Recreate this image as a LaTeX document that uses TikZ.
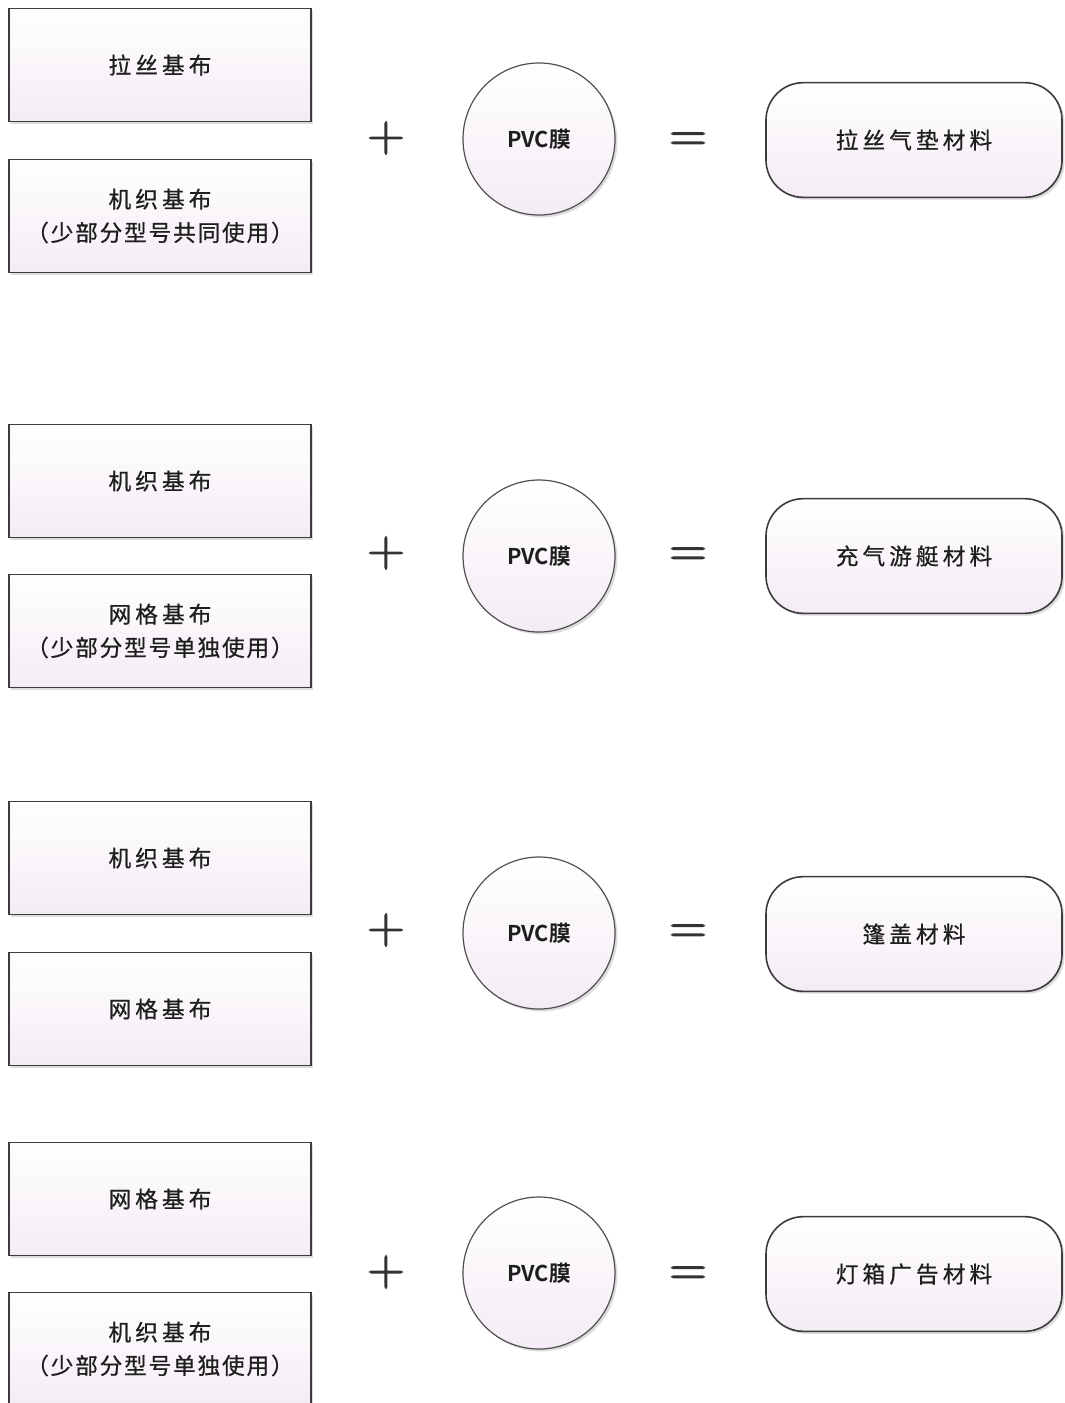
\documentclass[tikz,border=0pt]{standalone}
\usepackage{fontspec}
\usetikzlibrary{shadows}
\newfontfamily\cjkA[LetterSpace=18, FakeBold=0.7]{Noto Sans CJK SC}
\newfontfamily\cjkB[LetterSpace=8, FakeBold=0.7]{Noto Sans CJK SC}
\newfontfamily\cjkbold[BoldFont={Noto Sans CJK SC Bold}]{Noto Sans CJK SC}
\newfontfamily\opfont[FakeBold=2.2]{Latin Modern Roman}
\definecolor{edge}{HTML}{3C3C3C}
\definecolor{pinkish}{HTML}{F4ECF5}
\definecolor{ink}{HTML}{1E1E1E}
\tikzset{
  shade/.style={drop shadow={shadow xshift=1.8pt, shadow yshift=-1.8pt, fill=black!30, opacity=0.45}},
  basebox/.style={shade, draw=edge, line width=1.3pt, top color=white, bottom color=pinkish,
    minimum width=226.5pt, minimum height=84.75pt, align=center, inner sep=0pt, text=ink,
    font=\cjkA\fontsize{17}{25}\selectfont},
  film/.style={circle, shade, draw=edge!90, line width=0.9pt, top color=white, bottom color=pinkish,
    minimum size=114pt, inner sep=0pt, text=ink, font=\cjkbold\bfseries\fontsize{16.3}{18}\selectfont},
  result/.style={shade, draw=edge, line width=1.2pt, rounded corners=28pt, top color=white, bottom color=pinkish,
    minimum width=222pt, minimum height=86pt, inner sep=0pt, text=ink,
    font=\cjkA\fontsize{17}{25}\selectfont},
  op/.style={inner sep=0pt, text=black!80, font=\opfont\fontsize{39}{39}\selectfont},
}
\newcommand{\La}[1]{{\cjkA #1}}
\newcommand{\Lb}[1]{{\cjkB #1}}
\begin{document}
\begin{tikzpicture}[x=0.75pt, y=-0.75pt]
\useasboundingbox (0,0) rectangle (1064,1403);
\fill[white] (0,0) rectangle (1064,1403);
% Row 1
\node[basebox] (r1a) at (160,65) {\La{拉丝基布}};
\node[basebox] (r1b) at (160,216) {\La{机织基布}\\\Lb{（少部分型号共同使用）}};
\node[op] (p1) at (386,138) {+};
\node[film] (c1) at (539,139) {PVC膜};
\node[op] (e1) at (688,142) {=};
\node[result] (m1) at (914,140) {\La{拉丝气垫材料}};
% Row 2
\node[basebox] (r2a) at (160,481) {\La{机织基布}};
\node[basebox] (r2b) at (160,631) {\La{网格基布}\\\Lb{（少部分型号单独使用）}};
\node[op] (p2) at (386,553) {+};
\node[film] (c2) at (539,556) {PVC膜};
\node[op] (e2) at (688,557) {=};
\node[result] (m2) at (914,556) {\La{充气游艇材料}};
% Row 3
\node[basebox] (r3a) at (160,858) {\La{机织基布}};
\node[basebox] (r3b) at (160,1009) {\La{网格基布}};
\node[op] (p3) at (386,930) {+};
\node[film] (c3) at (539,933) {PVC膜};
\node[op] (e3) at (688,934) {=};
\node[result] (m3) at (914,934) {\La{篷盖材料}};
% Row 4
\node[basebox] (r4a) at (160,1199) {\La{网格基布}};
\node[basebox] (r4b) at (160,1349) {\La{机织基布}\\\Lb{（少部分型号单独使用）}};
\node[op] (p4) at (386,1272) {+};
\node[film] (c4) at (539,1273) {PVC膜};
\node[op] (e4) at (688,1276) {=};
\node[result] (m4) at (914,1274) {\La{灯箱广告材料}};
\end{tikzpicture}
\end{document}
